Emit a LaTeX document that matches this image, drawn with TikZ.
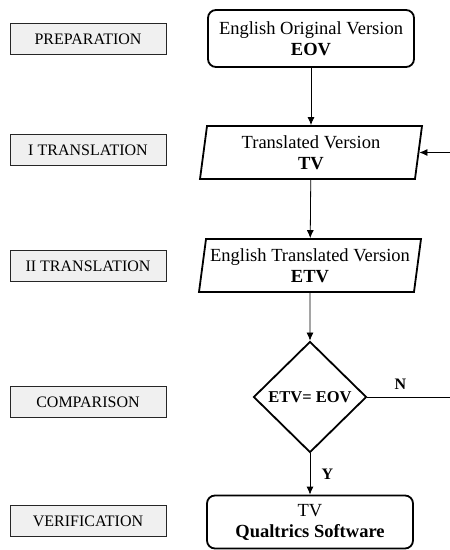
\documentclass[tikz,border=0pt]{standalone}
\usepackage{fontspec}
\setmainfont{Liberation Serif}
\usepackage{tikz}
\usetikzlibrary{shapes.geometric,arrows.meta,positioning}

\begin{document}
\begin{tikzpicture}[x=1pt, y=-1pt,
    stage/.style={rectangle, draw=black!85, fill=black!6, line width=0.8pt, minimum width=156pt, minimum height=31pt, text centered, font=\fontsize{16}{18}\selectfont},
    doc/.style={rectangle, draw, line width=1.8pt, rounded corners=8pt, minimum width=206pt, minimum height=57pt, inner sep=2pt, align=center, font=\fontsize{18.5}{21}\selectfont},
    io/.style={trapezium, trapezium left angle=79, trapezium right angle=101, trapezium stretches body, draw, line width=1.8pt, minimum width=222pt, minimum height=53pt, inner sep=1pt, align=center, font=\fontsize{18.5}{21}\selectfont},
    decision/.style={diamond, draw, line width=1.8pt, minimum width=113pt, minimum height=111pt, inner sep=0pt, font=\bfseries\fontsize{16.5}{20}\selectfont},
    tag/.style={font=\bfseries\fontsize{16}{18}\selectfont},
    arrow/.style={-{Latex[length=8pt,width=7pt]}, line width=0.8pt}
]
    \useasboundingbox (0,0) rectangle (450,550);

    % Stages
    \node[stage] (prep) at (88,39) {PREPARATION};
    \node[stage] (trans1) at (88,150) {I TRANSLATION};
    \node[stage] (trans2) at (88,266) {II TRANSLATION};
    \node[stage] (comp) at (88,402) {COMPARISON};
    \node[stage] (verif) at (88,521) {VERIFICATION};

    % Flow
    \node[doc] (eov) at (311,38.5) {English Original Version\\\textbf{EOV}};
    \node[io] (tv) at (311,152.5) {Translated Version\\\textbf{TV}};
    \node[io] (etv) at (310,265.5) {English Translated Version\\\textbf{ETV}};
    \node[decision] (check) at (310,397) {ETV= EOV};
    \node[doc, minimum height=53pt] (final) at (310,522) {TV\\\textbf{Qualtrics Software}};

    % Loop ends
    \coordinate (back) at (450,152.5);
    \coordinate (loop) at (450,397);

    % Arrows
    \draw[arrow] (eov) -- (tv);
    \draw[arrow] (tv) -- (etv);
    \draw[arrow] (etv) -- (check);
    \draw[arrow] (check) -- node[tag, right=8pt] {Y} (final);
    \draw[line width=0.8pt] (check.east) -- node[tag, above=4pt, pos=0.4] {N} (loop);
    \draw[arrow] (back) -- (tv.east);
\end{tikzpicture}
\end{document}
